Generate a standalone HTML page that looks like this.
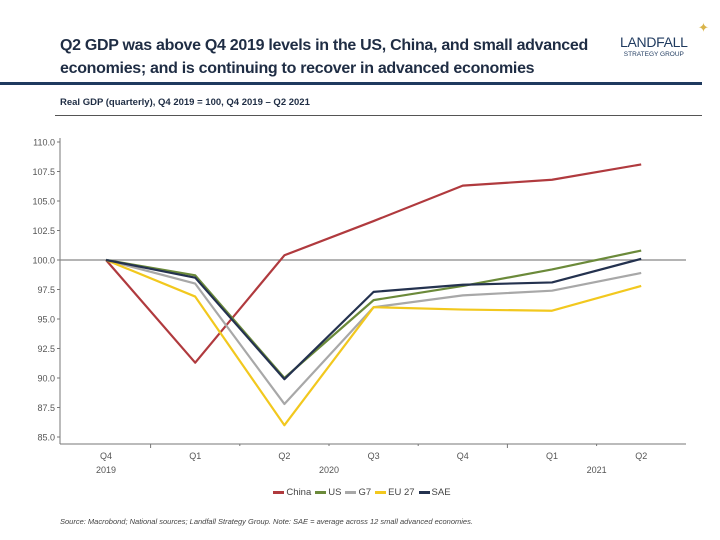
<!DOCTYPE html>
<html><head><meta charset="utf-8"><style>
body{margin:0;width:720px;height:540px;background:#fff;font-family:"Liberation Sans",sans-serif;position:relative;overflow:hidden}
.abs{position:absolute}
</style></head><body>
<div class="abs" style="left:60px;top:34px;font-size:16px;font-weight:bold;color:#1f2d44;line-height:23px;letter-spacing:-0.3px">Q2 GDP was above Q4 2019 levels in the US, China, and small advanced<br>economies; and is continuing to recover in advanced economies</div>
<div class="abs" style="left:620px;top:34px;text-align:center;color:#1f3a5f">
<div style="font-size:14px;letter-spacing:-0.3px">LANDFALL</div><div style="font-size:6.5px;margin-top:1px">STRATEGY GROUP</div>
<div class="abs" style="left:78px;top:-14px;color:#d9b44a;font-size:13px">✦</div></div>
<div class="abs" style="left:0;top:82px;width:702px;height:3px;background:#1f3a5f"></div>
<div class="abs" style="left:60px;top:97px;font-size:9.5px;font-weight:bold;color:#1f2d44">Real GDP (quarterly), Q4 2019 = 100, Q4 2019 – Q2 2021</div>
<div class="abs" style="left:55px;top:115px;width:647px;height:1px;background:#555"></div>
<svg class="abs" style="left:0;top:0" width="720" height="540" id="c"></svg>
<div class="abs" style="left:0;width:720px;top:487px;text-align:center;font-size:9.5px;color:#444" id="leg"></div>
<div class="abs" style="left:60px;top:517px;font-size:7.5px;font-style:italic;color:#444">Source: Macrobond; National sources; Landfall Strategy Group. Note: SAE = average across 12 small advanced economies.</div>
<script>
const categories=["Q4","Q1","Q2","Q3","Q4","Q1","Q2"];
const years=[{label:"2019",i:0},{label:"2020",i:2.5},{label:"2021",i:5.5}];
const yTicks=[85,87.5,90,92.5,95,97.5,100,102.5,105,107.5,110];
const china=[100,91.3,100.4,103.3,106.3,106.8,108.1];
const us=[100,98.7,90.0,96.6,97.8,99.2,100.8];
const g7=[100,98.0,87.8,96.0,97.0,97.4,98.9];
const eu27=[100,96.9,86.0,96.0,95.8,95.7,97.8];
const sae=[100,98.5,89.9,97.3,97.9,98.1,100.1];
const series=[["China",china,"#b03a3e"],["US",us,"#6b8a3a"],["G7",g7,"#a8a8a8"],["EU 27",eu27,"#f2c81e"],["SAE",sae,"#24324f"]];
const X0=60,X1=686,Yb=444;
const xs=i=>106+i*89.2;
const ys=v=>260-(v-100)*11.8;
const svg=document.getElementById('c');const NS="http://www.w3.org/2000/svg";
function mk(t,a,p){const e=document.createElementNS(NS,t);for(const k in a)e.setAttribute(k,a[k]);(p||svg).appendChild(e);return e;}
let e=mk('line',{x1:X0,y1:138,x2:X0,y2:Yb,stroke:'#777'});

e=mk('line',{x1:X0,y1:Yb,x2:X1,y2:Yb,stroke:'#777'});

yTicks.forEach(v=>{mk('line',{x1:X0-3,y1:ys(v),x2:X0,y2:ys(v),stroke:'#777'});
const t=mk('text',{x:X0-5,y:ys(v)+3.5,'text-anchor':'end','font-size':9,fill:'#555'});t.textContent=v.toFixed(1);
});
e=mk('line',{x1:X0,y1:ys(100),x2:X1,y2:ys(100),stroke:'#888','stroke-width':1.2});

categories.forEach((c,i)=>{const t=mk('text',{x:xs(i),y:459,'text-anchor':'middle','font-size':9,fill:'#555'});t.textContent=c;

if(i<categories.length-1)mk('line',{x1:xs(i+0.5),y1:Yb,x2:xs(i+0.5),y2:Yb+((i==0||i==4)?4:2),stroke:'#777'});});
years.forEach(y=>{const t=mk('text',{x:xs(y.i),y:473,'text-anchor':'middle','font-size':9,fill:'#555'});t.textContent=y.label;
});
const leg=document.getElementById('leg');
series.forEach(([n,d,c])=>{const p=mk('polyline',{points:d.map((v,i)=>xs(i)+','+ys(v)).join(' '),fill:'none',stroke:c,'stroke-width':2.2,'stroke-linejoin':'round'});

const s=document.createElement('span');s.innerHTML='<span style="display:inline-block;width:11px;height:2.5px;background:'+c+';vertical-align:middle;margin:0 2px 0 4px"></span>'+n;
leg.appendChild(s);});
</script>
</body></html>
